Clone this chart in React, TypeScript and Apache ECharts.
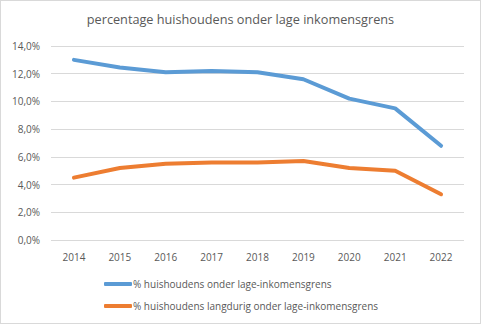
import React, { useEffect, useRef } from "react";
import * as echarts from "echarts";

const title = "percentage huishoudens onder lage inkomensgrens";
const years = ["2014", "2015", "2016", "2017", "2018", "2019", "2020", "2021", "2022"];
const seriesNames = [
  "% huishoudens onder lage-inkomensgrens",
  "% huishoudens langdurig onder lage-inkomensgrens",
];
const onderGrens = [13.0, 12.45, 12.1, 12.2, 12.1, 11.6, 10.2, 9.5, 6.8];
const langdurig = [4.5, 5.2, 5.5, 5.6, 5.6, 5.7, 5.2, 5.0, 3.3];

export default function App() {
  const ref = useRef<HTMLDivElement>(null);
  useEffect(() => {
    document.body.style.margin = "0";
    const chart = echarts.init(ref.current!, null, { renderer: "svg" });
    const font = "Open Sans";
    chart.setOption({
      animation: false,
      backgroundColor: "#ffffff",
      title: {
        text: title,
        left: "center",
        top: 6,
        textStyle: { fontFamily: font, fontSize: 12.7, fontWeight: "normal", color: "#595959" },
      },
      grid: { left: 50, right: 16, top: 45, bottom: 83 },
      xAxis: {
        type: "category",
        data: years,
        boundaryGap: true,
        axisLine: { show: false },
        axisTick: { show: false },
        axisLabel: { fontFamily: font, fontSize: 10, color: "#595959", margin: 12 },
      },
      yAxis: {
        type: "value",
        min: 0,
        max: 14,
        interval: 2,
        axisLine: { show: false },
        axisTick: { show: false },
        splitLine: { lineStyle: { color: "#d9d9d9", width: 1 } },
        axisLabel: {
          fontFamily: font,
          fontSize: 10,
          color: "#595959",
          margin: 11,
          formatter: (v: number) => v.toFixed(1).replace(".", ",") + "%",
        },
      },
      legend: {
        orient: "vertical",
        left: 98,
        top: 273,
        itemWidth: 28,
        itemHeight: 4,
        itemGap: 12,
        icon: "roundRect",
        textStyle: { fontFamily: font, fontSize: 10, color: "#595959", padding: [0, 0, 0, -4] },
      },
      series: [
        {
          name: seriesNames[0],
          type: "line",
          data: onderGrens,
          showSymbol: false,
          symbol: "none",
          lineStyle: { width: 4, color: "#5B9BD5", cap: "round", join: "round" },
          itemStyle: { color: "#5B9BD5" },
        },
        {
          name: seriesNames[1],
          type: "line",
          data: langdurig,
          showSymbol: false,
          symbol: "none",
          lineStyle: { width: 4, color: "#ED7D31", cap: "round", join: "round" },
          itemStyle: { color: "#ED7D31" },
        },
      ],
    });
    return () => chart.dispose();
  }, []);
  return (
    <div style={{ width: 481, height: 324, boxSizing: "border-box", border: "1px solid #d9d9d9" }}>
      <div ref={ref} style={{ width: 479, height: 322 }} />
    </div>
  );
}
